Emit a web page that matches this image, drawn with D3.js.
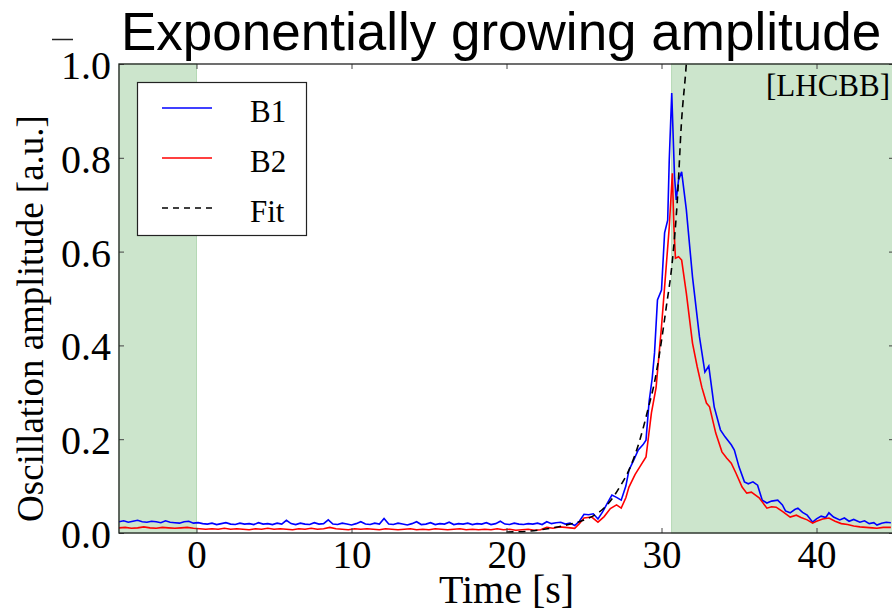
<!DOCTYPE html>
<html>
<head>
<meta charset="utf-8">
<script src="https://cdn.jsdelivr.net/npm/d3@7"></script>
<style>
  body { margin: 0; background: #fff; }
  svg { display: block; }
</style>
</head>
<body>
<svg id="chart" width="892" height="611"></svg>
<script>
// values, [time in s, amplitude]
const B1 = [
  [-5.0,0.024],[-4.7,0.026],[-4.4,0.023],[-4.1,0.025],[-3.8,0.027],[-3.5,0.024],[-3.2,0.023],[-2.9,0.025],
  [-2.6,0.024],[-2.3,0.022],[-2.0,0.026],[-1.7,0.023],[-1.4,0.022],[-1.1,0.021],[-0.8,0.024],[-0.5,0.025],
  [-0.2,0.021],[0.1,0.022],[0.4,0.020],[0.7,0.019],[1.0,0.021],[1.3,0.018],[1.6,0.020],[1.9,0.022],
  [2.2,0.019],[2.5,0.018],[2.8,0.021],[3.1,0.019],[3.4,0.020],[3.7,0.018],[4.0,0.022],[4.3,0.019],
  [4.6,0.020],[4.9,0.018],[5.2,0.021],[5.5,0.019],[5.8,0.027],[6.1,0.020],[6.4,0.018],[6.7,0.021],
  [7.0,0.019],[7.3,0.018],[7.6,0.022],[7.9,0.019],[8.2,0.020],[8.5,0.028],[8.8,0.019],[9.1,0.018],
  [9.4,0.021],[9.7,0.019],[10.0,0.017],[10.3,0.020],[10.6,0.024],[10.9,0.019],[11.2,0.018],[11.5,0.021],
  [11.8,0.019],[12.1,0.031],[12.4,0.019],[12.7,0.018],[13.0,0.021],[13.3,0.019],[13.6,0.017],[13.9,0.020],
  [14.2,0.024],[14.5,0.018],[14.8,0.019],[15.1,0.022],[15.4,0.018],[15.7,0.020],[16.0,0.019],[16.3,0.023],
  [16.6,0.018],[16.9,0.020],[17.2,0.019],[17.5,0.021],[17.8,0.018],[18.1,0.020],[18.4,0.019],[18.7,0.022],
  [19.0,0.018],[19.3,0.020],[19.6,0.025],[19.9,0.019],[20.2,0.018],[20.5,0.021],[20.8,0.019],[21.1,0.018],
  [21.4,0.020],[21.7,0.019],[22.0,0.021],[22.3,0.018],[22.6,0.024],[22.9,0.020],[23.2,0.022],[23.5,0.023],
  [23.8,0.019],[24.1,0.021],[24.4,0.016],[24.7,0.025],[25.0,0.040],[25.3,0.039],[25.6,0.041],[25.9,0.030],
  [26.2,0.045],[26.5,0.063],[26.8,0.081],[27.1,0.076],[27.4,0.070],[27.7,0.100],[27.9,0.134],[28.2,0.155],
  [28.5,0.177],[28.8,0.188],[29.0,0.198],[29.2,0.280],[29.4,0.330],[29.55,0.384],[29.74,0.497],[30.0,0.518],
  [30.2,0.640],[30.4,0.667],[30.5,0.795],[30.66,0.938],[30.84,0.760],[30.95,0.710],[31.1,0.753],[31.3,0.770],
  [31.6,0.690],[32.0,0.546],[32.45,0.418],[32.8,0.343],[33.05,0.356],[33.4,0.269],[33.8,0.220],[34.1,0.205],
  [34.5,0.188],[34.7,0.177],[35.0,0.141],[35.35,0.109],[35.6,0.105],[35.9,0.109],[36.2,0.102],[36.5,0.070],
  [36.8,0.064],[37.1,0.068],[37.5,0.070],[37.8,0.060],[38.0,0.047],[38.3,0.043],[38.6,0.050],[38.8,0.053],
  [39.1,0.044],[39.4,0.038],[39.75,0.023],[40.0,0.030],[40.3,0.036],[40.6,0.033],[40.8,0.043],[41.1,0.034],
  [41.5,0.028],[41.8,0.032],[42.1,0.025],[42.4,0.029],[42.8,0.023],[43.1,0.026],[43.4,0.020],[43.7,0.022],
  [43.9,0.017],[44.2,0.021],[44.5,0.023],[44.8,0.022]
];

const B2 = [
  [-5.0,0.011],[-4.6,0.012],[-4.2,0.010],[-3.8,0.011],[-3.4,0.013],[-3.0,0.011],[-2.6,0.010],[-2.2,0.012],
  [-1.8,0.011],[-1.4,0.010],[-1.0,0.011],[-0.6,0.012],[-0.2,0.010],[0.2,0.009],[0.6,0.008],[1.0,0.009],
  [1.4,0.008],[1.8,0.010],[2.2,0.008],[2.6,0.009],[3.0,0.008],[3.4,0.007],[3.8,0.009],[4.2,0.008],
  [4.6,0.010],[5.0,0.008],[5.4,0.009],[5.8,0.008],[6.2,0.007],[6.6,0.009],[7.0,0.008],[7.4,0.010],
  [7.8,0.008],[8.2,0.009],[8.6,0.012],[9.0,0.009],[9.4,0.008],[9.8,0.007],[10.2,0.009],[10.6,0.008],
  [11.0,0.009],[11.4,0.008],[11.8,0.007],[12.2,0.009],[12.6,0.008],[13.0,0.007],[13.4,0.008],[13.8,0.009],
  [14.2,0.007],[14.6,0.008],[15.0,0.007],[15.4,0.009],[15.8,0.008],[16.2,0.007],[16.6,0.008],[17.0,0.009],
  [17.4,0.007],[17.8,0.008],[18.2,0.007],[18.6,0.008],[19.0,0.007],[19.4,0.009],[19.8,0.007],[20.2,0.008],
  [20.6,0.006],[21.0,0.007],[21.4,0.008],[21.8,0.006],[22.2,0.007],[22.6,0.012],[23.0,0.010],[23.4,0.013],
  [23.8,0.012],[24.1,0.011],[24.4,0.010],[24.7,0.020],[25.0,0.032],[25.5,0.034],[25.9,0.023],[26.3,0.035],
  [26.7,0.052],[27.1,0.060],[27.4,0.053],[27.7,0.075],[27.9,0.098],[28.3,0.125],[28.6,0.141],[29.0,0.162],
  [29.35,0.256],[29.65,0.310],[30.0,0.440],[30.3,0.567],[30.5,0.652],[30.7,0.767],[30.8,0.652],[30.9,0.586],
  [31.1,0.589],[31.3,0.582],[31.6,0.512],[32.0,0.405],[32.3,0.355],[32.6,0.311],[32.9,0.277],[33.1,0.269],
  [33.5,0.213],[33.9,0.173],[34.2,0.160],[34.5,0.149],[34.8,0.128],[35.2,0.098],[35.5,0.085],[35.8,0.087],
  [36.3,0.075],[36.8,0.053],[37.1,0.056],[37.4,0.055],[37.8,0.046],[38.3,0.034],[38.7,0.038],[39.0,0.033],
  [39.4,0.028],[39.75,0.021],[40.0,0.025],[40.4,0.030],[40.8,0.032],[41.2,0.025],[41.6,0.020],[42.0,0.018],
  [42.4,0.015],[42.8,0.013],[43.2,0.012],[43.6,0.011],[43.9,0.010],[44.3,0.012],[44.8,0.012]
];

const FIT = [
  [20.0,0.002],[21.5,0.004],[22.8,0.010],[24.0,0.018],[24.7,0.024],[25.5,0.035],[26.0,0.045],[26.7,0.068],
  [27.3,0.098],[27.9,0.134],[28.6,0.198],[29.1,0.260],[29.6,0.330],[30.0,0.410],[30.3,0.480],[30.7,0.580],
  [31.05,0.725],[31.27,0.866],[31.6,1.0],[31.7,1.05]
];

// shaded time windows
const SHADED = [[-5, 0], [30.65, 45]];
const X_TICKS = [0, 10, 20, 30, 40];
const Y_TICKS = [0, 0.2, 0.4, 0.6, 0.8, 1.0];
const LEGEND = [
  {label: "B1", color: "#0000ff", dash: null},
  {label: "B2", color: "#ff0000", dash: null},
  {label: "Fit", color: "#000000", dash: "6,5"}
];

const serif = "'Liberation Serif', 'Times New Roman', serif";
const svg = d3.select("#chart");
const m = {left: 119, top: 64, right: 894, bottom: 533};

const x = d3.scaleLinear().domain([-5, 45]).range([m.left, m.right]);
const y = d3.scaleLinear().domain([0, 1]).range([m.bottom, m.top]);

svg.append("defs").append("clipPath").attr("id", "plotclip")
  .append("rect")
  .attr("x", m.left).attr("y", m.top)
  .attr("width", m.right - m.left).attr("height", m.bottom - m.top);

svg.append("g").selectAll("rect")
  .data(SHADED)
  .enter().append("rect")
  .attr("x", d => x(d[0]))
  .attr("y", m.top)
  .attr("width", d => x(d[1]) - x(d[0]))
  .attr("height", m.bottom - m.top)
  .style("fill", "#cce5cc")
  .style("stroke", "#b5d9b5")
  .style("stroke-width", 1);

let line = d3.line().x(d => x(d[0])).y(d => y(d[1]));
let plot = svg.append("g").attr("clip-path", "url(#plotclip)");

plot.append("path").datum(B1)
  .attr("d", line)
  .style("fill", "none").style("stroke", "#0000ff").style("stroke-width", 1.6);
plot.append("path").datum(B2)
  .attr("d", line)
  .style("fill", "none").style("stroke", "#ff0000").style("stroke-width", 1.6);
plot.append("path").datum(FIT)
  .attr("d", d3.line().curve(d3.curveMonotoneX).x(d => x(d[0])).y(d => y(d[1])))
  .style("fill", "none").style("stroke", "#000").style("stroke-width", 1.6)
  .style("stroke-dasharray", "7,5");

// axes, ticks pointing inward like matplotlib
function styleAxis(g) {
  g.select(".domain").remove();
  g.selectAll(".tick line").style("stroke", "#444").style("stroke-width", 1);
  g.selectAll(".tick text").style("font-family", serif).style("fill", "#000");
}

svg.append("g").attr("transform", "translate(0," + m.bottom + ")")
  .call(d3.axisBottom(x).tickValues(X_TICKS).tickSize(-5).tickPadding(7).tickFormat(d3.format("d")))
  .call(styleAxis)
  .selectAll("text").style("font-size", "39px");
svg.append("g").attr("transform", "translate(0," + m.top + ")")
  .call(d3.axisTop(x).tickValues(X_TICKS).tickSize(-5).tickFormat(""))
  .call(styleAxis);
svg.append("g").attr("transform", "translate(" + m.left + ",0)")
  .call(d3.axisLeft(y).tickValues(Y_TICKS).tickSize(-5).tickPadding(8).tickFormat(d3.format(".1f")))
  .call(styleAxis)
  .selectAll("text").style("font-size", "40px").attr("dy", "0.36em");
svg.append("g").attr("transform", "translate(" + m.right + ",0)")
  .call(d3.axisRight(y).tickValues(Y_TICKS).tickSize(-5).tickFormat(""))
  .call(styleAxis);

// frame
svg.append("rect")
  .attr("x", m.left).attr("y", m.top)
  .attr("width", m.right - m.left).attr("height", m.bottom - m.top)
  .style("fill", "none").style("stroke", "#222").style("stroke-width", 1.3);

// legend
let lg = svg.append("g");
lg.append("rect")
  .attr("x", 137.5).attr("y", 82.5).attr("width", 169).attr("height", 153)
  .style("fill", "#fff").style("stroke", "#222").style("stroke-width", 1.2);
LEGEND.forEach(function(item, i) {
  let ly = 108 + i * 50;
  lg.append("line")
    .attr("x1", 162).attr("x2", 212).attr("y1", ly).attr("y2", ly)
    .style("stroke", item.color).style("stroke-width", 1.6)
    .style("stroke-dasharray", item.dash);
  lg.append("text")
    .attr("x", 250).attr("y", ly + 14)
    .style("font-family", serif).style("font-size", "31px")
    .text(item.label);
});

svg.append("text")
  .attr("x", 890).attr("y", 96)
  .attr("text-anchor", "end")
  .style("font-family", serif).style("font-size", "31px")
  .text("[LHCBB]");

// title and axis labels
svg.append("text")
  .attr("x", 121).attr("y", 50)
  .style("font-family", "'Liberation Sans', Arial, sans-serif").style("font-size", "53px")
  .text("Exponentially growing amplitude");

svg.append("text")
  .attr("x", (m.left + m.right) / 2).attr("y", 603)
  .attr("text-anchor", "middle")
  .style("font-family", serif).style("font-size", "40px")
  .text("Time [s]");

svg.append("text")
  .attr("transform", "translate(43," + ((m.top + m.bottom) / 2 + 20) + ") rotate(-90)")
  .attr("text-anchor", "middle")
  .style("font-family", serif).style("font-size", "37px")
  .text("Oscillation amplitude [a.u.]");

// small stray dash above the top tick label
svg.append("line")
  .attr("x1", 52).attr("x2", 73).attr("y1", 39.5).attr("y2", 39.5)
  .style("stroke", "#222").style("stroke-width", 1.5);
</script>
</body>
</html>
